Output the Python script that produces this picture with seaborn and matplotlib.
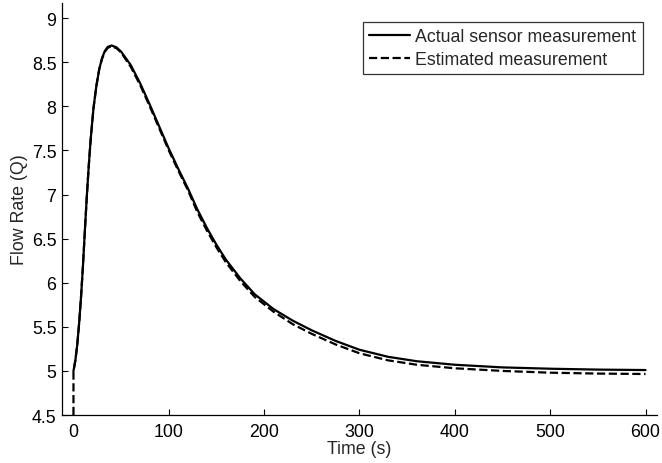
import pandas as pd
import matplotlib
matplotlib.use("Agg")
import matplotlib.pyplot as plt
import seaborn as sns

time_actual = [0, 2, 4, 6, 8, 10, 12, 14, 16, 18, 21, 24, 27, 30, 33, 36, 40, 45,
               50, 60, 70, 80, 90, 100, 110, 120, 130, 140, 150, 160, 175, 190,
               210, 230, 250, 275, 300, 330, 360, 400, 450, 500, 550, 600]
flow_actual = [5.0, 5.12, 5.3, 5.55, 5.85, 6.2, 6.6, 6.98, 7.32, 7.62, 7.98, 8.23,
               8.42, 8.55, 8.63, 8.675, 8.69, 8.67, 8.62, 8.47, 8.26, 8.02, 7.77,
               7.52, 7.29, 7.07, 6.83, 6.62, 6.43, 6.26, 6.05, 5.87, 5.70, 5.57,
               5.46, 5.34, 5.24, 5.16, 5.11, 5.07, 5.04, 5.025, 5.015, 5.01]

# Estimated measurement (starts at the axis floor at t=0)
time_est = [0] + time_actual
flow_est = [4.5, 5.0, 5.12, 5.3, 5.55, 5.85, 6.2, 6.6, 6.98, 7.32, 7.62, 7.98,
            8.23, 8.42, 8.54, 8.62, 8.665, 8.68, 8.66, 8.61, 8.45, 8.24, 8.00,
            7.75, 7.50, 7.27, 7.05, 6.80, 6.59, 6.40, 6.23, 6.02, 5.84, 5.67,
            5.53, 5.42, 5.30, 5.20, 5.12, 5.07, 5.03, 5.00, 4.98, 4.97, 4.965]

df_actual = pd.DataFrame({'time': time_actual, 'flow': flow_actual})
df_est = pd.DataFrame({'time': time_est, 'flow': flow_est})

sns.set_style('ticks')
plt.rcParams['font.family'] = ['Liberation Sans', 'DejaVu Sans']
fs = 12.8

fig = plt.figure(figsize=(6.62, 4.64), dpi=100)
ax = fig.add_axes([0.0937, 0.1034, 0.8987, 0.8876])

sns.lineplot(data=df_actual, x='time', y='flow', ax=ax, color='black',
             linewidth=1.6, estimator=None, sort=False,
             label='Actual sensor measurement')
sns.lineplot(data=df_est, x='time', y='flow', ax=ax, color='black',
             linewidth=1.6, linestyle='--', estimator=None, sort=False,
             label='Estimated measurement')

ax.set_xlim(-12, 612)
ax.set_ylim(4.5, 9.17)
ax.set_xticks([0, 100, 200, 300, 400, 500, 600])
ax.set_yticks([4.5, 5, 5.5, 6, 6.5, 7, 7.5, 8, 8.5, 9])
ax.set_yticklabels(['4.5', '5', '5.5', '6', '6.5', '7', '7.5', '8', '8.5', '9'])
ax.tick_params(axis='x', direction='in', length=4, width=0.8, colors='black',
               labelsize=fs, pad=6)
ax.tick_params(axis='y', direction='in', length=4, width=0.8, colors='black',
               labelsize=fs, pad=4)
for side in ['top', 'right']:
    ax.spines[side].set_visible(False)
for side in ['left', 'bottom']:
    ax.spines[side].set_color('black')
    ax.spines[side].set_linewidth(0.9)

ax.set_xlabel('Time (s)', fontsize=fs, labelpad=0)
ax.set_ylabel('Flow Rate (Q)', fontsize=fs, labelpad=3)

leg = ax.legend(loc='upper right', bbox_to_anchor=(0.976, 0.955),
                frameon=True, fancybox=False, shadow=False,
                handlelength=2.3, handletextpad=0.3, borderpad=0.35,
                labelspacing=0.35, borderaxespad=0.0, fontsize=fs)
leg.get_frame().set_edgecolor('black')
leg.get_frame().set_linewidth(0.9)

fig.savefig('out.png', dpi=100)
plt.close()
